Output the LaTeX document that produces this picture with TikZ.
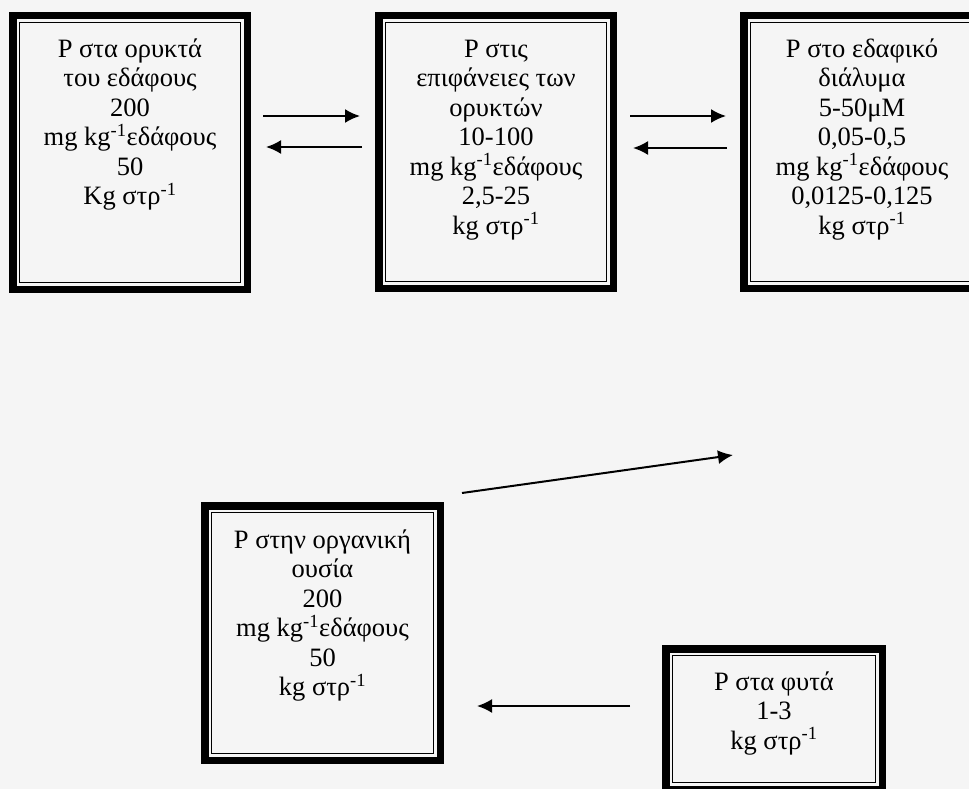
\documentclass[tikz,border=0pt]{standalone}
\usepackage{fontspec}
\setmainfont{Liberation Serif}
\usetikzlibrary{arrows.meta}
\definecolor{bg}{HTML}{F5F5F5}
\tikzset{
  outerframe/.style={line width=7.5pt, draw=black},
  innerframe/.style={line width=1.8pt, draw=black},
  boxtext/.style={anchor=base, align=center, inner sep=0pt, font=\fontsize{26.5}{29.5}\selectfont},
  flow/.style={line width=2pt, -{Latex[length=15pt,width=14pt]}},
}
\newcommand\dblframe[4]{%
  \draw[outerframe] (#1+3.75,#2+3.75) rectangle (#3-3.75,#4-3.75);
  \draw[innerframe] (#1+10.5,#2+10.5) rectangle (#3-10.5,#4-10.5);}
\begin{document}
\begin{tikzpicture}[x=1pt,y=-1pt]
\fill[bg] (0,0) rectangle (969,789);
\useasboundingbox (0,0) rectangle (969,789);
\clip (0,0) rectangle (969,789);
% frames
\dblframe{9}{12}{251}{293}
\dblframe{375}{12}{617}{292}
\dblframe{740}{12}{984}{292}
\dblframe{201}{502}{444}{764}
\dblframe{662}{645}{886}{793}
% texts (anchor = baseline of the last line)
\node[boxtext] (t1) at (130,204.5) {P στα ορυκτά\\του εδάφους\\200\\mg kg\textsuperscript{-1}εδάφους\\50\\Kg στρ\textsuperscript{-1}};
\node[boxtext] (t2) at (496,234) {P στις\\επιφάνειες των\\ορυκτών\\10-100\\mg kg\textsuperscript{-1}εδάφους\\2,5-25\\kg στρ\textsuperscript{-1}};
\node[boxtext] (t3) at (862,234) {P στο εδαφικό\\διάλυμα\\5-50μM\\0,05-0,5\\mg kg\textsuperscript{-1}εδάφους\\0,0125-0,125\\kg στρ\textsuperscript{-1}};
\node[boxtext] (t4) at (322.5,695.5) {P στην οργανική\\ουσία\\200\\mg kg\textsuperscript{-1}εδάφους\\50\\kg στρ\textsuperscript{-1}};
\node[boxtext] (t5) at (774,749) {P στα φυτά\\1-3\\kg στρ\textsuperscript{-1}};
% arrow end points
\coordinate (a1s) at (263,116);
\coordinate (a1e) at (360,116);
\coordinate (a2s) at (362,147);
\coordinate (a2e) at (266,147);
\coordinate (a3s) at (630,116);
\coordinate (a3e) at (726,116);
\coordinate (a4s) at (727,148);
\coordinate (a4e) at (633,148);
\coordinate (a5s) at (462,493);
\coordinate (a5e) at (733,455);
\coordinate (a6s) at (630,706);
\coordinate (a6e) at (477,706);
\draw[flow] (a1s) -- (a1e);
\draw[flow] (a2s) -- (a2e);
\draw[flow] (a3s) -- (a3e);
\draw[flow] (a4s) -- (a4e);
\draw[flow] (a5s) -- (a5e);
\draw[flow] (a6s) -- (a6e);
\end{tikzpicture}
\end{document}
